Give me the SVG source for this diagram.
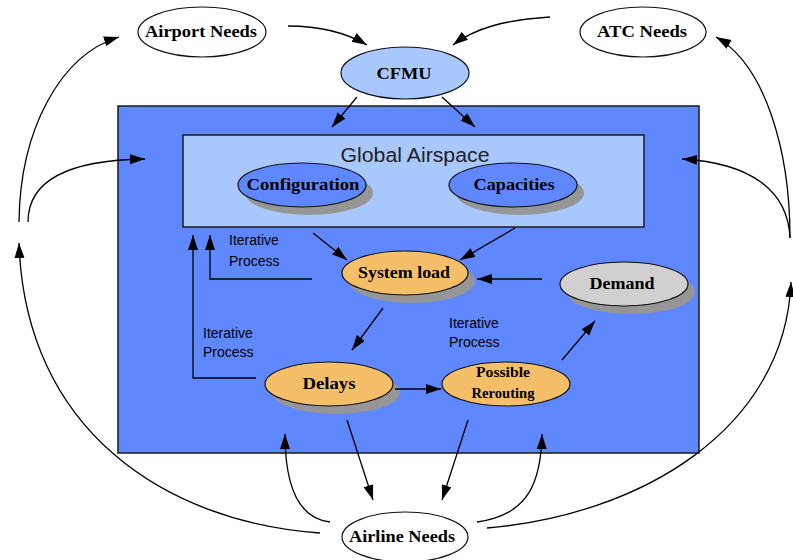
<svg xmlns="http://www.w3.org/2000/svg" width="793" height="560" viewBox="0 0 793 560">
<style>
.bg{fill:#ffffff}
.outer{fill:#6088fe;stroke:#1a1a1a;stroke-width:1.5}
.inner{fill:#a8c8ff;stroke:#1a1a1a;stroke-width:1.5}
.el{stroke:#111;stroke-width:1.2}
.white{fill:#ffffff}
.lblue{fill:#a8c8ff}
.blue{fill:#6088fe}
.orange{fill:#f5bf6a}
.grey{fill:#d0d0d0}
.shadow{fill:#969696}
.nt{font-family:"Liberation Serif","Times New Roman",serif;font-weight:bold;font-size:17px;fill:#000;text-anchor:middle}
.small{font-size:14px}
.lab{font-family:"Liberation Sans",Arial,sans-serif;font-size:14px;fill:#000}
.title{font-family:"Liberation Sans",Arial,sans-serif;font-size:20px;fill:#222;text-anchor:middle}
.conn path{fill:none;stroke:#000;stroke-width:1.3}
</style>
<defs>
<marker id="ah" markerUnits="userSpaceOnUse" markerWidth="16" markerHeight="12" refX="15" refY="5" orient="auto">
<path d="M0,0 L15,5 L0,10 z" fill="#000"/>
</marker>
</defs>
<rect class="bg" x="0" y="0" width="793" height="560"/>

<g id="system-box">
<rect class="outer" x="118" y="106" width="581" height="347"/>
</g>
<g id="global-airspace">
<rect class="inner" x="183" y="135" width="461" height="92"/>
<text class="title" x="415" y="162" textLength="149" lengthAdjust="spacingAndGlyphs">Global Airspace</text>
</g>

<g id="airport-needs">
<ellipse class="el white" cx="202" cy="32" rx="64" ry="25"/>
<text class="nt" x="201" y="37" textLength="112" lengthAdjust="spacingAndGlyphs">Airport Needs</text>
</g>
<g id="atc-needs">
<ellipse class="el white" cx="643" cy="32" rx="63" ry="25"/>
<text class="nt" x="642" y="37" textLength="90" lengthAdjust="spacingAndGlyphs">ATC Needs</text>
</g>
<g id="cfmu">
<ellipse class="el lblue" cx="405" cy="73" rx="64" ry="26"/>
<text class="nt" x="404" y="79" textLength="55" lengthAdjust="spacingAndGlyphs">CFMU</text>
</g>
<g id="configuration">
<ellipse class="shadow" cx="309" cy="193" rx="64" ry="22"/>
<ellipse class="el blue" cx="302" cy="185" rx="64" ry="22"/>
<text class="nt" x="303" y="190" textLength="113" lengthAdjust="spacingAndGlyphs">Configuration</text>
</g>
<g id="capacities">
<ellipse class="shadow" cx="520" cy="193" rx="64" ry="22"/>
<ellipse class="el blue" cx="513" cy="185" rx="64" ry="22"/>
<text class="nt" x="514" y="190" textLength="81" lengthAdjust="spacingAndGlyphs">Capacities</text>
</g>
<g id="system-load">
<ellipse class="shadow" cx="412" cy="281" rx="63" ry="22"/>
<ellipse class="el orange" cx="405" cy="273" rx="63" ry="22"/>
<text class="nt" x="404" y="278" textLength="92" lengthAdjust="spacingAndGlyphs">System load</text>
</g>
<g id="demand">
<ellipse class="shadow" cx="631" cy="292" rx="64" ry="22"/>
<ellipse class="el grey" cx="624" cy="284" rx="64" ry="22"/>
<text class="nt" x="622" y="289" textLength="65" lengthAdjust="spacingAndGlyphs">Demand</text>
</g>
<g id="delays">
<ellipse class="shadow" cx="336" cy="392" rx="64" ry="22"/>
<ellipse class="el orange" cx="329" cy="384" rx="64" ry="22"/>
<text class="nt" x="329" y="389" textLength="53" lengthAdjust="spacingAndGlyphs">Delays</text>
</g>
<g id="possible-rerouting">
<ellipse class="el orange" cx="506" cy="384" rx="64" ry="22"/>
<text class="nt small" x="503" y="377" textLength="54" lengthAdjust="spacingAndGlyphs">Possible</text>
<text class="nt small" x="503" y="398" textLength="63" lengthAdjust="spacingAndGlyphs">Rerouting</text>
</g>
<g id="airline-needs">
<ellipse class="el white" cx="405" cy="537" rx="63" ry="25"/>
<text class="nt" x="402" y="542" textLength="106" lengthAdjust="spacingAndGlyphs">Airline Needs</text>
</g>

<g id="labels">
<text class="lab" x="229" y="245">Iterative</text>
<text class="lab" x="229" y="266">Process</text>
<text class="lab" x="203" y="338">Iterative</text>
<text class="lab" x="203" y="357">Process</text>
<text class="lab" x="449" y="328">Iterative</text>
<text class="lab" x="449" y="347">Process</text>
</g>

<g id="connectors" class="conn">
<path d="M288,26 C320,26 345,32 367,45" marker-end="url(#ah)"/>
<path d="M550,17 C505,20 475,28 453,45" marker-end="url(#ah)"/>
<path d="M357,97 L332,127" marker-end="url(#ah)"/>
<path d="M442,97 L475,127" marker-end="url(#ah)"/>
<path d="M790,238 C790,150 765,65 716,37" marker-end="url(#ah)"/>
<path d="M790,238 C788,190 750,163 682,159" marker-end="url(#ah)"/>
<path d="M487,528 C640,515 785,430 791,282" marker-end="url(#ah)"/>
<path d="M19,222 C20,130 60,55 119,37" marker-end="url(#ah)"/>
<path d="M28,222 C28,180 70,160 145,159" marker-end="url(#ah)"/>
<path d="M320,533 C165,522 25,430 19,243" marker-end="url(#ah)"/>
<path d="M330,522 C295,518 285,480 285,434" marker-end="url(#ah)"/>
<path d="M477,522 C530,515 541,480 542,434" marker-end="url(#ah)"/>
<path d="M347,420 L373,500" marker-end="url(#ah)"/>
<path d="M468,420 L442,500" marker-end="url(#ah)"/>
<path d="M313,233 L347,260" marker-end="url(#ah)"/>
<path d="M515,228 L460,260" marker-end="url(#ah)"/>
<path d="M542,279 L477,279" marker-end="url(#ah)"/>
<path d="M312,279 L210,279 L210,235" marker-end="url(#ah)"/>
<path d="M256,378 L193,378 L193,235" marker-end="url(#ah)"/>
<path d="M383,308 L352,350" marker-end="url(#ah)"/>
<path d="M395,389 L441,389" marker-end="url(#ah)"/>
<path d="M562,360 L595,321" marker-end="url(#ah)"/>
</g>
</svg>
